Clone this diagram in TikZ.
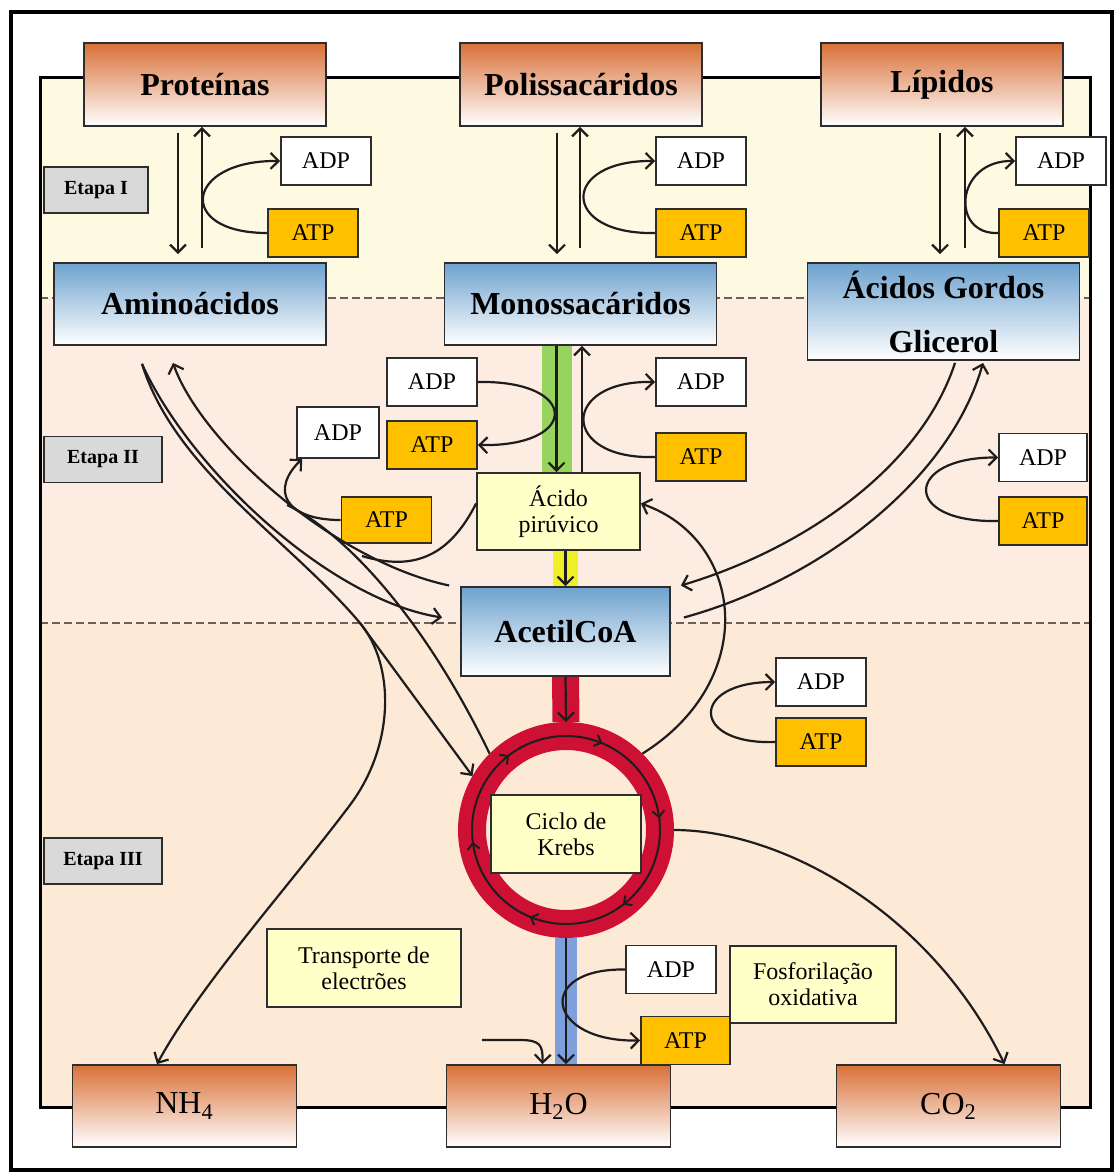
\documentclass[tikz,border=0pt]{standalone}
\usepackage{fontspec}
\setmainfont{Liberation Serif}
\usetikzlibrary{arrows.meta,decorations.markings}

\definecolor{bandone}{RGB}{254,250,226}
\definecolor{bandtwo}{RGB}{252,236,226}
\definecolor{bandthree}{RGB}{252,233,214}
\definecolor{orangetop}{RGB}{217,112,56}
\definecolor{bluetop}{RGB}{110,162,206}
\definecolor{boxline}{RGB}{45,45,45}
\definecolor{inkline}{RGB}{30,28,28}
\definecolor{atpgold}{RGB}{255,192,0}
\definecolor{paleyellow}{RGB}{255,255,200}
\definecolor{stagegray}{RGB}{217,217,217}
\definecolor{krebsred}{RGB}{205,16,52}
\definecolor{glycgreen}{RGB}{150,212,95}
\definecolor{pyryellow}{RGB}{240,240,40}
\definecolor{waterblue}{RGB}{125,160,220}
\definecolor{dashbrown}{RGB}{110,95,80}

\begin{document}
\begin{tikzpicture}[x=0.5pt,y={(0pt,-0.5pt)},
  box/.style={draw=boxline,line width=0.9pt,inner sep=1pt,align=center},
  source/.style={box,top color=orangetop,bottom color=white,minimum width=121pt,minimum height=41.5pt,
    font=\fontsize{16}{18}\selectfont\bfseries},
  unit/.style={box,top color=bluetop,bottom color=white,minimum width=136pt,minimum height=41pt,
    font=\fontsize{16}{18}\selectfont\bfseries},
  product/.style={box,top color=orangetop,bottom color=white,minimum width=112pt,minimum height=41pt,
    font=\fontsize{16}{18}\selectfont},
  pale/.style={box,fill=paleyellow,font=\fontsize{12}{13}\selectfont},
  stage/.style={box,fill=stagegray,minimum width=59pt,minimum height=23pt,font=\fontsize{10}{12}\selectfont\bfseries},
  adp/.style={box,fill=white,minimum width=45pt,minimum height=24pt,font=\fontsize{12}{14}\selectfont},
  atp/.style={adp,fill=atpgold},
  ringnode/.style={circle,draw=krebsred,line width=14pt,minimum size=94pt,inner sep=0pt},
  line/.style={draw=inkline,line width=1.1pt},
  arr/.style={line,-{Straight Barb[length=4pt,width=8pt]}},
  bar/.style={line cap=butt},
  cyclearrows/.style={draw=inkline,line width=1pt,postaction={decorate},
    decoration={markings,mark=between positions 0.02 and 1 step 0.1667 with
      {\arrowreversed{Straight Barb[length=3pt,width=6pt]}}}},
  stageline/.style={draw=dashbrown,line width=1pt,dash pattern=on 4pt off 2pt}]
\useasboundingbox (0,0) rectangle (1119,1174);

% bands
\fill[bandone] (40,77) rectangle (1090,298);
\fill[bandtwo] (40,298) rectangle (1090,623);
\fill[bandthree] (40,623) rectangle (1090,1107);
\draw[stageline] (40,298) -- (1090,298);
\draw[stageline] (40,623) -- (1090,623);
\draw[line width=1.5pt] (40,77) rectangle (1090,1107);
\draw[line width=2pt] (11,12) rectangle (1112,1170);

% stages
\node[stage,minimum width=52pt] (etI) at (96,190) {Etapa I};
\node[stage] (etII) at (103,459.5) {Etapa II};
\node[stage] (etIII) at (103,861) {Etapa III};

% main boxes
\node[source] (prot) at (205,84.5) {Proteínas};
\node[source] (poli) at (581,84.5) {Polissacáridos};
\node[source] (lip) at (942,84.5) {Lípidos};
\node[unit] (amino) at (190,304) {Aminoácidos};
\node[unit] (mono) at (580.5,304) {Monossacáridos};
\node[unit,minimum height=48.5pt] (acgord) at (943.5,311.5) {Ácidos Gordos\\[9pt]Glicerol};
\node[pale,minimum width=81.5pt,minimum height=38.5pt] (piru) at (558.5,511.5) {Ácido\\pirúvico};
\node[unit,minimum width=104.5pt,minimum height=44.5pt] (acetil) at (565.5,631.5) {AcetilCoA};
\node[ringnode] (ring) at (566,830) {};
\node[pale,minimum width=75pt,minimum height=39pt] (krebs) at (566,834) {Ciclo de\\Krebs};
\node[pale,minimum width=97pt,minimum height=39pt] (transp) at (364,968) {Transporte de\\electrões};
\node[pale,minimum width=83pt,minimum height=38.5pt] (fosf) at (813,984.5) {Fosforilação\\oxidativa};
\node[product] (nh4) at (184.5,1106) {NH\textsubscript{4}};
\node[product] (h2o) at (558.5,1106) {H\textsubscript{2}O};
\node[product] (co2) at (948.5,1106) {CO\textsubscript{2}};

% ADP / ATP
\node[adp] (adpA) at (326,161) {ADP};
\node[atp] (atpA) at (313,233) {ATP};
\node[adp] (adpB) at (701,161) {ADP};
\node[atp] (atpB) at (701,233) {ATP};
\node[adp] (adpC) at (1061,161) {ADP};
\node[atp] (atpC) at (1044,233) {ATP};
\node[adp] (adpD) at (432,382) {ADP};
\node[atp] (atpD) at (432,445) {ATP};
\node[adp] (adpE) at (701,382) {ADP};
\node[atp] (atpE) at (701,457) {ATP};
\node[adp,minimum width=41pt,minimum height=25.5pt] (adpF) at (338,432.5) {ADP};
\node[atp,minimum height=23pt] (atpF) at (386.5,520) {ATP};
\node[adp,minimum width=44pt] (adpG) at (1043,457.5) {ADP};
\node[atp,minimum width=44pt] (atpG) at (1043,521) {ATP};
\node[adp] (adpH) at (821,682) {ADP};
\node[atp] (atpH) at (821,742) {ATP};
\node[adp] (adpI) at (671,969.5) {ADP};
\node[atp,minimum width=44.5pt] (atpI) at (685.5,1040.5) {ATP};

% coloured bars
\draw[bar,glycgreen,line width=15pt] ([xshift=-12pt]mono.south) -- ([xshift=-12pt]mono.south |- piru.north);
\draw[bar,pyryellow,line width=12.5pt] (acetil.north |- piru.south) -- (acetil.north);
\draw[bar,krebsred,line width=13.5pt] (acetil.south) -- (ring.north);
\draw[bar,waterblue,line width=11pt] (ring.south) -- (ring.south |- h2o.north);
\draw[cyclearrows] (ring.center) circle[radius=47pt];

% stage I
\draw[arr,shorten <=3pt,shorten >=4pt] ([xshift=-13.5pt]prot.south) -- ([xshift=-13.5pt]prot.south |- amino.north);
\draw[arr,shorten <=7pt] ([xshift=-1.5pt]prot.south |- amino.north) -- ([xshift=-1.5pt]prot.south);
\draw[arr,shorten <=3pt,shorten >=4pt] ([xshift=-12pt]poli.south) -- ([xshift=-12pt]poli.south |- mono.north);
\draw[arr,shorten <=7pt] ([xshift=-0.5pt]poli.south |- mono.north) -- ([xshift=-0.5pt]poli.south);
\draw[arr,shorten <=3pt,shorten >=4pt] ([xshift=-1pt]lip.south) -- ([xshift=-1pt]lip.south |- acgord.north);
\draw[arr,shorten <=7pt] ([xshift=11.5pt]lip.south |- acgord.north) -- ([xshift=11.5pt]lip.south);
\draw[arr] (atpA.west) .. controls (175,233) and (185,160) .. (adpA.west);
\draw[arr] (atpB.west) .. controls (560,235) and (560,160) .. (adpB.west);
\draw[arr] (atpC.west) .. controls (950,235) and (955,160) .. (adpC.west);

% stage II
\draw[arr] ([xshift=-12pt]mono.south) -- ([xshift=-12pt]mono.south |- piru.north);
\draw[arr] ([xshift=0.75pt]mono.south |- piru.north) -- ([xshift=0.75pt]mono.south);
\draw[arr] (acetil.north |- piru.south) -- (acetil.north);
\draw[arr] (adpD.east) .. controls (580,380) and (580,447) .. (atpD.east);
\draw[arr] (atpE.west) .. controls (560,460) and (560,380) .. (adpE.west);
\draw[arr] (atpF.west) .. controls (285,520) and (270,490) .. ([xshift=3pt]adpF.south west);
\draw[arr] (atpG.west) .. controls (900,523) and (905,457) .. (adpG.west);
\draw[arr] ([xshift=-24pt,yshift=-9pt]amino.south) .. controls (190,470) and (330,600) .. ([xshift=-9pt,yshift=7pt]acetil.west);
\draw[arr] ([xshift=-5.5pt,yshift=23pt]acetil.west) .. controls (330,560) and (200,440) .. ([xshift=-8.5pt,yshift=-8.5pt]amino.south);
\coordinate (pirujoin) at (362,556);
\draw[line] ([yshift=4pt]piru.west) .. controls (450,555) and (415,572) .. (pirujoin);
\draw[arr] ([xshift=5.75pt,yshift=-1pt]acgord.south) .. controls (920,470) and (800,550) .. ([xshift=5pt,yshift=23pt]acetil.east);
\draw[arr] ([xshift=6.5pt,yshift=7pt]acetil.east) .. controls (820,580) and (950,480) .. ([xshift=19.75pt,yshift=-1pt]acgord.south);

% stage III
\draw[arr] (acetil.south) -- (ring.north);
\coordinate (split) at (360,623);
\coordinate (loopbase) at (287,505);
\draw[arr] ([xshift=-24pt,yshift=-9pt]amino.south) .. controls (175,470) and (290,540) .. (split) -- (ring.150);
\draw[arr] (split) .. controls (395,665) and (395,745) .. (350,805) .. controls (290,885) and (200,985) .. ([xshift=-13.75pt]nh4.north);
\draw[line] (loopbase) .. controls (340,530) and (420,610) .. (ring.135);
\draw[arr] (ring.45) .. controls (760,680) and (745,540) .. ([yshift=4pt]piru.east);
\draw[arr] (atpH.west) .. controls (690,745) and (690,682) .. (adpH.west);
\draw[arr] (ring.east) .. controls (780,830) and (930,910) .. ([xshift=28pt]co2.north);
\draw[arr] (ring.south) -- (ring.south |- h2o.north);
\draw[arr] (adpI.west) .. controls (535,968) and (545,1042) .. (atpI.west);
\coordinate (hin) at (482,1040);
\draw[arr] (hin) -- (520,1040) .. controls (540,1040) and (543,1045) .. ([xshift=-8pt]h2o.north);
\end{tikzpicture}
\end{document}
